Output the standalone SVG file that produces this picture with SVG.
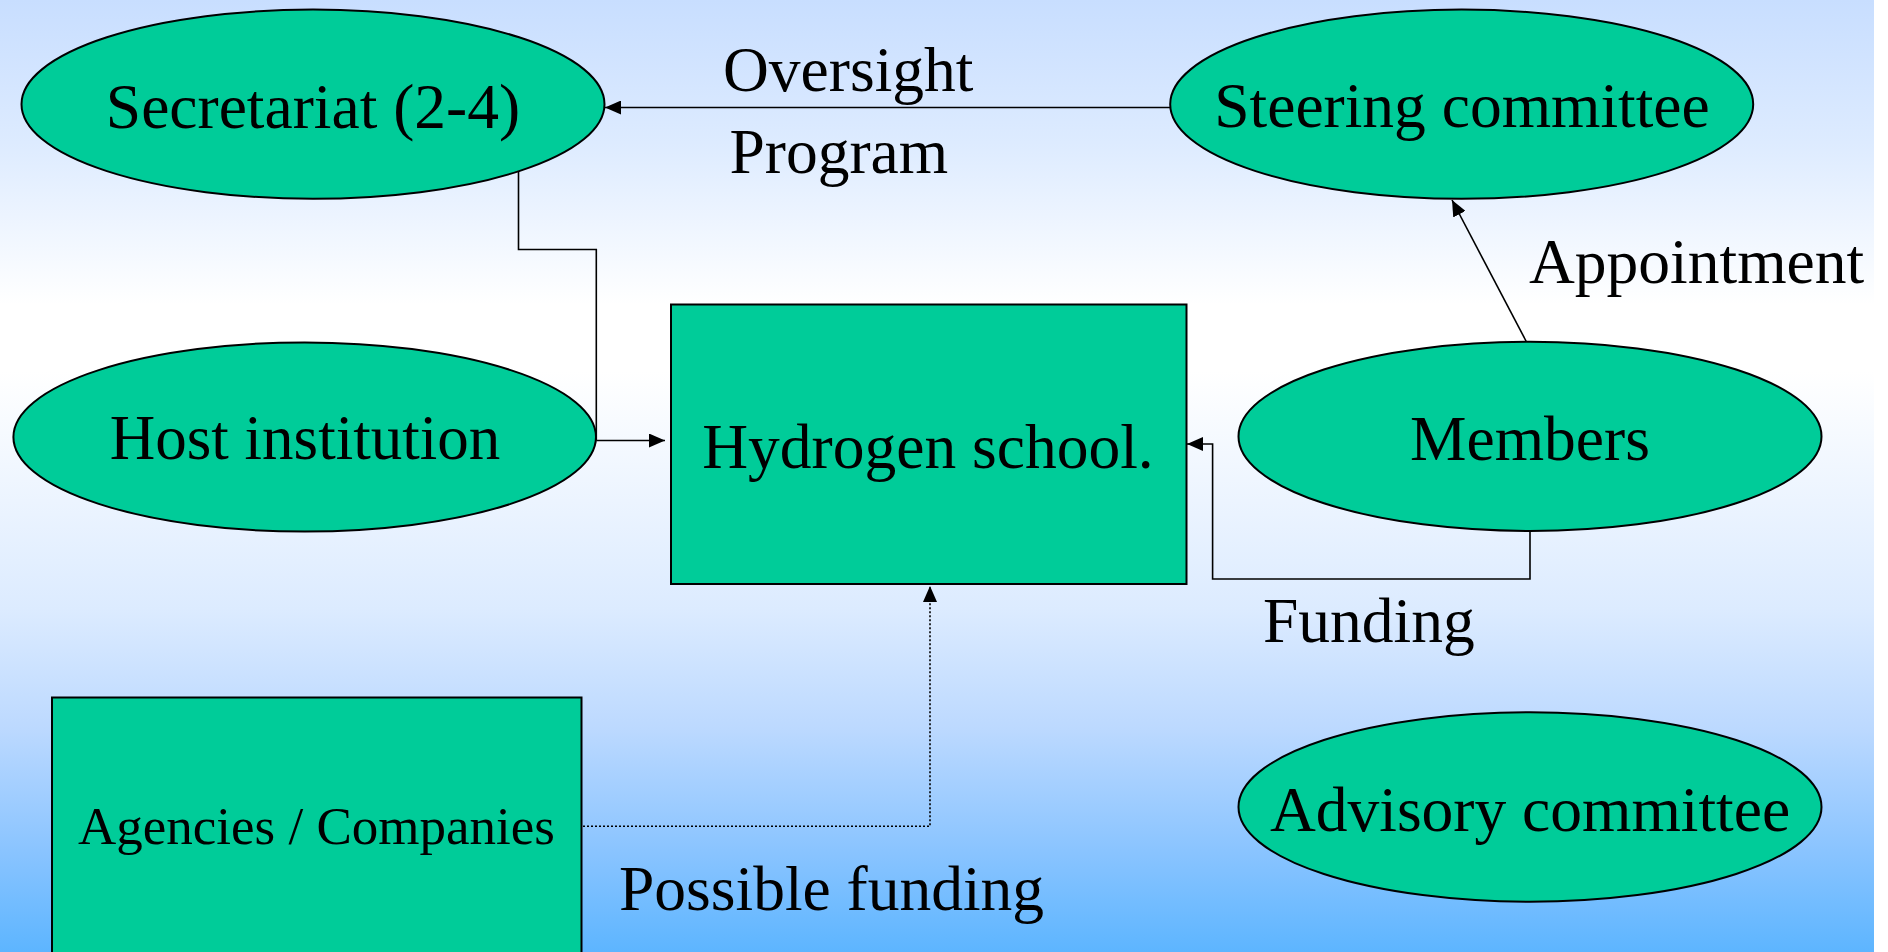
<svg xmlns="http://www.w3.org/2000/svg" width="1888" height="952" viewBox="0 0 1888 952">
<defs>
<linearGradient id="bg" x1="0" y1="0" x2="0" y2="1">
<stop offset="0" stop-color="#C8DEFF"/>
<stop offset="0.15" stop-color="#DDEBFF"/>
<stop offset="0.32" stop-color="#FFFFFF"/>
<stop offset="0.39" stop-color="#FFFFFF"/>
<stop offset="0.64" stop-color="#DCEBFF"/>
<stop offset="0.765" stop-color="#BCD9FF"/>
<stop offset="0.893" stop-color="#8AC4FF"/>
<stop offset="1" stop-color="#5DB5FF"/>
</linearGradient>
<marker id="arr" markerUnits="userSpaceOnUse" markerWidth="16" markerHeight="14" refX="16" refY="7" orient="auto">
<path d="M0,0 L16,7 L0,14 z" fill="#000"/>
</marker>
</defs>
<style>
.node{fill:#00CC99;stroke:#000;stroke-width:2}
.t{font-family:"Liberation Serif","Times New Roman",serif;fill:#000;text-anchor:middle;font-size:63.5px}
.lbl{font-family:"Liberation Serif","Times New Roman",serif;fill:#000;font-size:63.5px}
.c{fill:none;stroke:#000;stroke-width:1.6}
.dot{fill:none;stroke:#000;stroke-width:1.6;stroke-dasharray:2 2}
</style>
<rect x="0" y="0" width="1888" height="952" fill="#FFFFFF"/>
<rect x="0" y="0" width="1874" height="952" fill="url(#bg)"/>

<g id="connectors">
<path class="c" d="M1170,107.5 H605" marker-end="url(#arr)"/>
<path class="c" d="M518.5,171 V249.5 H596.3 V440.5"/>
<path class="c" d="M596.3,440.5 H665" marker-end="url(#arr)"/>
<path class="c" d="M1526.5,342 L1452,200" marker-end="url(#arr)"/>
<path class="c" d="M1530,531 V579 H1212.6 V444 H1187" marker-end="url(#arr)"/>
<path class="dot" d="M583,826.3 H930 V586" marker-end="url(#arr)"/>
</g>

<g id="labels">
<text class="lbl" x="723" y="91">Oversight</text>
<text class="lbl" x="729.5" y="172.5">Program</text>
<text class="lbl" x="1529" y="283">Appointment</text>
<text class="lbl" x="1263" y="642">Funding</text>
<text class="lbl" x="619" y="910">Possible funding</text>
</g>

<g id="secretariat">
<ellipse class="node" cx="313" cy="104.2" rx="291.5" ry="94.6"/>
<text class="t" x="313" y="127.6">Secretariat (2-4)</text>
</g>
<g id="steering">
<ellipse class="node" cx="1461.7" cy="104.2" rx="291.5" ry="94.6"/>
<text class="t" x="1462" y="127">Steering committee</text>
</g>
<g id="host">
<ellipse class="node" cx="304.7" cy="437" rx="291.3" ry="94.6"/>
<text class="t" x="305" y="459.3" style="font-size:63px">Host institution</text>
</g>
<g id="members">
<ellipse class="node" cx="1530" cy="436.4" rx="291.5" ry="94.6"/>
<text class="t" x="1530" y="460">Members</text>
</g>
<g id="hydrogen">
<rect class="node" x="671" y="304.5" width="515.5" height="279.5"/>
<text class="t" x="928" y="468">Hydrogen school.</text>
</g>
<g id="advisory">
<ellipse class="node" cx="1530" cy="807" rx="291.5" ry="94.7"/>
<text class="t" x="1530" y="830.5">Advisory committee</text>
</g>
<g id="agencies">
<rect class="node" x="52" y="697.5" width="529.5" height="270"/>
<text class="t" x="316.5" y="844" style="font-size:53px">Agencies / Companies</text>
</g>
</svg>
